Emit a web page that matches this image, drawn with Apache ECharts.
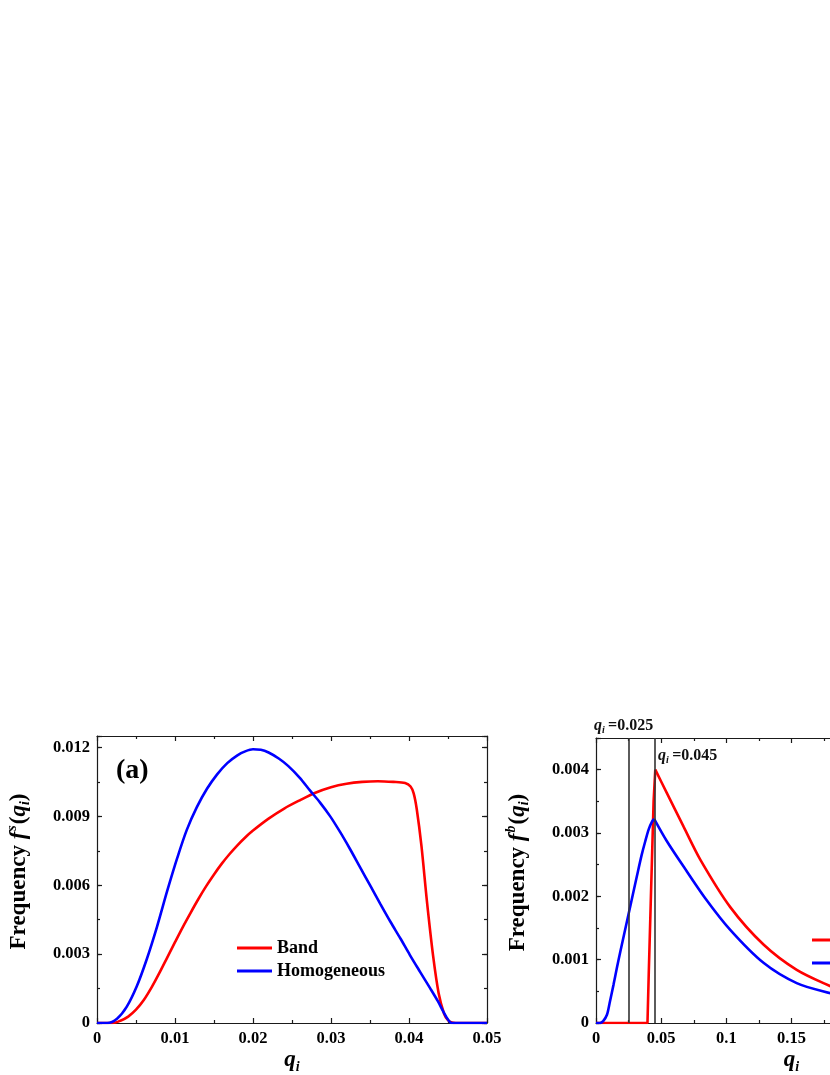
<!DOCTYPE html>
<html>
<head>
<meta charset="utf-8">
<script src="https://cdn.jsdelivr.net/npm/echarts@6/dist/echarts.min.js"></script>
<style>
html,body{margin:0;padding:0;background:#fff;overflow:hidden;}
#chart{width:830px;height:1075px;}
</style>
</head>
<body>
<div id="chart"></div>
<script>
// ---- Panel (a): f^s(q_i) ----
const bandSX = [0, 0.002, 0.003, 0.004, 0.005, 0.006, 0.007, 0.008, 0.009, 0.01, 0.011, 0.012, 0.013, 0.014, 0.015, 0.016, 0.017, 0.018, 0.019, 0.02, 0.022, 0.024, 0.026, 0.028, 0.03, 0.032, 0.034, 0.036, 0.038, 0.0395, 0.0402, 0.0406, 0.041, 0.0416, 0.0423, 0.0431, 0.0438, 0.0445, 0.045, 0.0455, 0.046, 0.05];
const bandSY = [0, 0, 0.0001, 0.00028, 0.00058, 0.001, 0.00155, 0.00218, 0.00285, 0.00352, 0.00418, 0.0048, 0.0054, 0.00596, 0.00647, 0.00694, 0.00736, 0.00774, 0.00808, 0.00838, 0.0089, 0.00934, 0.0097, 0.01003, 0.01027, 0.01042, 0.0105, 0.01053, 0.0105, 0.01045, 0.0103, 0.0100, 0.0093, 0.0077, 0.0053, 0.0029, 0.0013, 0.0004, 0.00012, 0.00002, 0, 0];
const homoSX = [0, 0.0013, 0.0026, 0.0038, 0.0051, 0.0064, 0.0077, 0.009, 0.0103, 0.0115, 0.0128, 0.0141, 0.0154, 0.0167, 0.018, 0.019, 0.02, 0.021, 0.022, 0.0233, 0.0245, 0.026, 0.0273, 0.0286, 0.0299, 0.0312, 0.0324, 0.0337, 0.035, 0.0363, 0.0376, 0.0389, 0.0401, 0.0414, 0.0427, 0.0437, 0.0444, 0.045, 0.0455, 0.05];
const homoSY = [0, 0, 0.0002, 0.0007, 0.0016, 0.0028, 0.0042, 0.00575, 0.0072, 0.0084, 0.0094, 0.0102, 0.01083, 0.01132, 0.01166, 0.01183, 0.01192, 0.0119, 0.01178, 0.01152, 0.0112, 0.01068, 0.01013, 0.0096, 0.009, 0.0083, 0.0076, 0.0068, 0.006, 0.0052, 0.00442, 0.00368, 0.00297, 0.00224, 0.00152, 0.00095, 0.0005, 0.00015, 0, 0];
const xTicksA = ['0', '0.01', '0.02', '0.03', '0.04', '0.05'];
const yTicksA = ['0', '0.003', '0.006', '0.009', '0.012'];

// ---- Panel (b): f^b(q_i) ----
const bandBX = [0, 0.0395, 0.0405, 0.042, 0.0442, 0.0455, 0.0544, 0.0672, 0.08, 0.103, 0.1285, 0.154, 0.18, 0.186];
const bandBY = [0, 0, 0.0008, 0.0019, 0.0035, 0.004, 0.00363, 0.0031, 0.00258, 0.00183, 0.00124, 0.00084, 0.00058, 0.00054];
const homoBX = [0, 0.003, 0.0055, 0.0084, 0.0105, 0.0135, 0.016, 0.0186, 0.025, 0.0314, 0.035, 0.0378, 0.0405, 0.043, 0.0447, 0.0544, 0.0672, 0.0838, 0.103, 0.1285, 0.154, 0.18, 0.186];
const homoBY = [0, 0, 0.00003, 0.00013, 0.00032, 0.00061, 0.00087, 0.00112, 0.00172, 0.00232, 0.00265, 0.00287, 0.00306, 0.00318, 0.00322, 0.00287, 0.00247, 0.00197, 0.00147, 0.00095, 0.00063, 0.00047, 0.00045];
const xTicksB = ['0', '0.05', '0.1', '0.15', '0.2', '0.25', '0.3'];
const yTicksB = ['0', '0.001', '0.002', '0.003', '0.004'];
const markQ = [0.025, 0.045];
const markText = ['=0.025', '=0.045'];

const FONT = "'Liberation Serif','Times New Roman',serif";
const RED = '#ff0000', BLUE = '#0000ff', AX = '#1a1a1a';
const pair = (xs, ys) => xs.map((x, i) => [x, ys[i]]);
function peakIndex(ys) { let k = 0; ys.forEach((v, i) => { if (v > ys[k]) k = i; }); return k; }

function labelFrom(list, step) {
  return function (v) {
    const k = Math.round(v / step);
    if (Math.abs(v - k * step) > step * 1e-6) return '';
    return list[k] !== undefined ? list[k] : '';
  };
}

function xAx(grid, max, interval, list, pos) {
  const main = pos === 'bottom';
  return {
    type: 'value', gridIndex: grid, position: pos, min: 0, max: max, interval: interval,
    axisLine: { show: true, onZero: false, lineStyle: { color: AX, width: 1.2 } },
    axisTick: { show: true, inside: true, length: 5, lineStyle: { color: AX, width: 1.2 } },
    minorTick: { show: true, splitNumber: 2, length: 3, lineStyle: { color: AX, width: 1.2 } },
    splitLine: { show: false }, minorSplitLine: { show: false },
    axisLabel: main ? { show: true, margin: 7, color: '#000', fontFamily: FONT, fontWeight: 'bold', fontSize: 16.5, formatter: labelFrom(list, interval) } : { show: false },
    name: main ? '{q|q}{s|i}' : '',
    nameLocation: 'middle', nameGap: 23,
    nameTextStyle: {
      rich: {
        q: { fontFamily: FONT, fontStyle: 'italic', fontWeight: 'bold', fontSize: 23, color: '#000' },
        s: { fontFamily: FONT, fontStyle: 'italic', fontWeight: 'bold', fontSize: 14, color: '#000', padding: [14, 0, 0, 0] }
      }
    }
  };
}

function yAx(grid, max, interval, list, pos, minor, supChar) {
  const main = pos === 'left' && !minor;
  return {
    type: 'value', gridIndex: grid, position: pos, min: 0, max: max, interval: interval,
    axisLine: { show: !minor, onZero: false, lineStyle: { color: AX, width: 1.2 } },
    axisTick: { show: true, inside: true, length: minor ? 3 : 5, lineStyle: { color: AX, width: 1.2 } },
    splitLine: { show: false },
    axisLabel: main ? { show: true, margin: 7, color: '#000', fontFamily: FONT, fontWeight: 'bold', fontSize: 16.5, formatter: labelFrom(list, interval) } : { show: false },
    name: main ? '{n|Frequency }{f|f}{sup|' + supChar + '}{n|(}{f|q}{sub|i}{n|)}' : '',
    nameLocation: 'middle', nameGap: 64,
    nameTextStyle: {
      padding: [0, 0, 0, 16],
      rich: {
        n: { fontFamily: FONT, fontWeight: 'bold', fontSize: 23, color: '#000' },
        f: { fontFamily: FONT, fontWeight: 'bold', fontStyle: 'italic', fontSize: 23, color: '#000' },
        sup: { fontFamily: FONT, fontWeight: 'bold', fontStyle: 'italic', fontSize: 14, color: '#000', padding: [0, 1, 14, 1] },
        sub: { fontFamily: FONT, fontWeight: 'bold', fontStyle: 'italic', fontSize: 14, color: '#000', padding: [12, 0, 0, 0] }
      }
    }
  };
}

function lineSeries(name, xIdx, yIdx, data, color, smooth) {
  return { name: name, type: 'line', xAxisIndex: xIdx, yAxisIndex: yIdx, data: data, smooth: smooth,
    showSymbol: false, symbol: 'none', lineStyle: { color: color, width: 2.6 }, itemStyle: { color: color }, z: 3 };
}

const kBand = peakIndex(bandBY), kHomo = peakIndex(homoBY);
const bandB = pair(bandBX, bandBY), homoB = pair(homoBX, homoBY);

const bandRise = lineSeries('Band', 2, 4, bandB.slice(0, kBand + 1), RED, false);
bandRise.markLine = {
  silent: true, symbol: ['none', 'none'], animation: false, precision: 6,
  lineStyle: { color: '#333', width: 1.6, type: 'solid' },
  data: markQ.map((q, i) => ({
    xAxis: q,
    label: {
      show: true, position: 'end', distance: 3,
      offset: i === 0 ? [-5, 0] : [33, 30],
      formatter: '{q|q}{s|i} {t|' + markText[i] + '}',
      rich: {
        q: { fontFamily: FONT, fontStyle: 'italic', fontWeight: 'bold', fontSize: 16, color: '#111' },
        s: { fontFamily: FONT, fontStyle: 'italic', fontWeight: 'bold', fontSize: 10, color: '#111', padding: [8, 0, 0, 0] },
        t: { fontFamily: FONT, fontWeight: 'bold', fontSize: 16, color: '#111' }
      }
    }
  }))
};

const legendStyle = { orient: 'vertical', itemWidth: 35, itemHeight: 3, itemGap: 5, padding: 0, icon: 'rect',
  textStyle: { fontFamily: FONT, fontWeight: 'bold', fontSize: 18, color: '#000' } };

const option = {
  animation: false,
  backgroundColor: '#fff',
  title: {
    text: '(a)', left: 111, top: 752,
    textStyle: { fontFamily: FONT, fontWeight: 'bold', fontSize: 28, color: '#000' }
  },
  grid: [
    { left: 97, top: 736, width: 390, height: 287, outerBoundsMode: 'none', containLabel: false },
    { left: 596, top: 738, width: 391, height: 285, outerBoundsMode: 'none', containLabel: false }
  ],
  legend: [
    Object.assign({ data: ['Band', 'Homogeneous'], left: 237, top: 939 }, legendStyle),
    Object.assign({ data: ['Band', 'Homogeneous'], left: 812, top: 931 }, legendStyle)
  ],
  xAxis: [
    xAx(0, 0.05, 0.01, xTicksA, 'bottom'),
    xAx(0, 0.05, 0.01, xTicksA, 'top'),
    xAx(1, 0.3, 0.05, xTicksB, 'bottom'),
    xAx(1, 0.3, 0.05, xTicksB, 'top')
  ],
  yAxis: [
    yAx(0, 0.0125, 0.003, yTicksA, 'left', false, 's'),
    yAx(0, 0.0125, 0.003, yTicksA, 'right', false, 's'),
    yAx(0, 0.0125, 0.0015, yTicksA, 'left', true, 's'),
    yAx(0, 0.0125, 0.0015, yTicksA, 'right', true, 's'),
    yAx(1, 0.0045, 0.001, yTicksB, 'left', false, 'b'),
    yAx(1, 0.0045, 0.001, yTicksB, 'right', false, 'b'),
    yAx(1, 0.0045, 0.0005, yTicksB, 'left', true, 'b'),
    yAx(1, 0.0045, 0.0005, yTicksB, 'right', true, 'b')
  ],
  series: [
    lineSeries('Band', 0, 0, pair(bandSX, bandSY), RED, 0.3),
    lineSeries('Homogeneous', 0, 0, pair(homoSX, homoSY), BLUE, 0.3),
    bandRise,
    lineSeries('Band', 2, 4, bandB.slice(kBand), RED, 0.3),
    lineSeries('Homogeneous', 2, 4, homoB.slice(0, kHomo + 1), BLUE, 0.3),
    lineSeries('Homogeneous', 2, 4, homoB.slice(kHomo), BLUE, 0.3)
  ]
};

const chart = echarts.init(document.getElementById('chart'), null, { renderer: 'canvas' });
chart.setOption(option);
</script>
</body>
</html>
